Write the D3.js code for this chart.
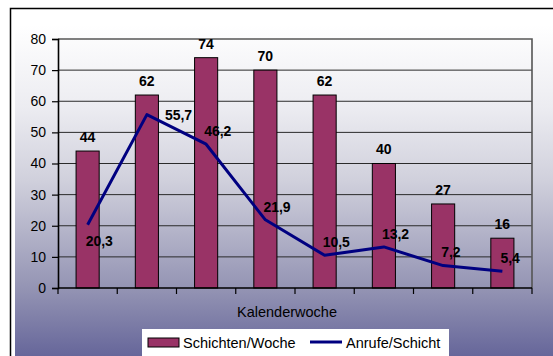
<!DOCTYPE html>
<html>
<head>
<meta charset="utf-8">
<script src="https://cdn.jsdelivr.net/npm/d3@7"></script>
<style>
  html, body { margin: 0; padding: 0; background: #fff; }
  svg { display: block; font-family: "Liberation Sans", Arial, sans-serif; }
</style>
</head>
<body>
<svg id="chart" width="553" height="356"></svg>
<script>
// Weekly shifts (bars) and calls per shift (line), per calendar week
const weeks = ["1", "2", "3", "4", "5", "6", "7", "8"];
const shiftsPerWeek = [44, 62, 74, 70, 62, 40, 27, 16];
const callsPerShift = [20.3, 55.7, 46.2, 21.9, 10.5, 13.2, 7.2, 5.4];
const yTicks = [0, 10, 20, 30, 40, 50, 60, 70, 80];
const seriesNames = ["Schichten/Woche", "Anrufe/Schicht"];
const axisTitle = "Kalenderwoche";

// where each line value label sits relative to its point
const lineLabelPlacement = ["below", "right", "above", "above", "above", "above", "above", "above"];

const svg = d3.select("#chart");
const W = 553, H = 356;
const plot = { left: 58, right: 532, top: 39, bottom: 288 };

const fmt = v => String(v).replace(".", ",");

// background gradient
const defs = svg.append("defs");
const grad = defs.append("linearGradient")
  .attr("id", "bg").attr("gradientUnits", "userSpaceOnUse")
  .attr("x1", 0).attr("y1", 25).attr("x2", 0).attr("y2", 356);
[[0, "#ffffff"], [0.25, "#ececf1"], [0.47, "#d0d0dc"], [0.8, "#9393b3"], [1, "#66669a"]]
  .forEach(([o, c]) => grad.append("stop").attr("offset", o).attr("stop-color", c));

svg.append("rect").attr("x", 0).attr("y", 0).attr("width", W).attr("height", H).attr("fill", "#fff");
svg.append("rect").attr("x", 15).attr("y", 25).attr("width", W).attr("height", H)
  .attr("fill", "url(#bg)");
// outer frame
svg.append("rect").attr("x", 10.5).attr("y", 8.5).attr("width", 600).attr("height", 400)
  .attr("fill", "none").attr("stroke", "#000").attr("stroke-width", 1.5);

const x = d3.scaleBand().domain(weeks)
  .range([plot.left, plot.right]).paddingInner(0.61).paddingOuter(0.305);
const y = d3.scaleLinear().domain([0, 80]).range([plot.bottom, plot.top]);

// gridlines
svg.append("g").selectAll("line").data(yTicks.filter(t => t > 0 && t < 80)).join("line")
  .attr("x1", plot.left).attr("x2", plot.right)
  .attr("y1", d => y(d)).attr("y2", d => y(d))
  .attr("stroke", "#2a2a2a").attr("stroke-width", 1);

// plot-area border (top and right)
svg.append("path")
  .attr("d", `M${plot.left},${plot.top}H${plot.right}V${plot.bottom}`)
  .attr("fill", "none").attr("stroke", "#555").attr("stroke-width", 1.6);

// bars
svg.append("g").selectAll("rect").data(shiftsPerWeek).join("rect")
  .attr("x", (d, i) => x(weeks[i]))
  .attr("y", d => y(d))
  .attr("width", x.bandwidth())
  .attr("height", d => y(0) - y(d))
  .attr("fill", "#993366").attr("stroke", "#000").attr("stroke-width", 1);

// y axis
const yAxis = svg.append("g").attr("transform", `translate(${plot.left},0)`)
  .call(d3.axisLeft(y).tickValues(yTicks).tickSize(6).tickPadding(6).tickFormat(d3.format("d")));
yAxis.select(".domain").attr("stroke", "#000").attr("stroke-width", 1.6);
yAxis.selectAll(".tick line").attr("stroke", "#000").attr("stroke-width", 1.2);
yAxis.selectAll(".tick text").attr("font-size", 14).attr("fill", "#000")
  .attr("font-family", "Liberation Sans, Arial, sans-serif");

// x axis: ticks on category boundaries
const bounds = d3.range(weeks.length + 1).map(i => plot.left + i * x.step());
svg.append("g").selectAll("line").data(bounds).join("line")
  .attr("x1", d => d).attr("x2", d => d)
  .attr("y1", plot.bottom).attr("y2", plot.bottom + 6)
  .attr("stroke", "#000").attr("stroke-width", 1.2);
svg.append("line")
  .attr("x1", plot.left).attr("x2", plot.right)
  .attr("y1", plot.bottom).attr("y2", plot.bottom)
  .attr("stroke", "#000").attr("stroke-width", 1.6);

svg.append("text").attr("x", (plot.left + plot.right) / 2 - 8).attr("y", 312)
  .attr("dy", "0.35em").attr("text-anchor", "middle")
  .attr("font-size", 14.5).text(axisTitle);

// line
const cx = i => x(weeks[i]) + x.bandwidth() / 2;
const line = d3.line().x((d, i) => cx(i)).y(d => y(d));
svg.append("path").datum(callsPerShift).attr("d", line)
  .attr("fill", "none").attr("stroke", "#000080").attr("stroke-width", 3)
  .attr("stroke-linejoin", "round");

// bar value labels
svg.append("g").selectAll("text").data(shiftsPerWeek).join("text")
  .attr("x", (d, i) => cx(i))
  .attr("y", d => y(d) - 14)
  .attr("dy", "0.35em").attr("text-anchor", "middle")
  .attr("font-size", 14).attr("font-weight", "bold").text(d => d);

// line value labels
const offsets = { below: [-2, 16], right: [18, 0], above: [-2, -13] };
svg.append("g").selectAll("text").data(callsPerShift).join("text")
  .attr("x", (d, i) => cx(i) + offsets[lineLabelPlacement[i]][0])
  .attr("y", (d, i) => y(d) + offsets[lineLabelPlacement[i]][1])
  .attr("dy", "0.35em").attr("text-anchor", "start")
  .attr("font-size", 14).attr("font-weight", "bold").text(d => fmt(d));

// legend
const lg = svg.append("g");
lg.append("rect").attr("x", 142).attr("y", 329).attr("width", 307).attr("height", 30).attr("fill", "#fff");
lg.append("rect").attr("x", 148).attr("y", 338).attr("width", 31).attr("height", 9)
  .attr("fill", "#993366").attr("stroke", "#000").attr("stroke-width", 1);
lg.append("text").attr("x", 183).attr("y", 342.5).attr("dy", "0.35em")
  .attr("font-size", 14.5).text(seriesNames[0]);
lg.append("line").attr("x1", 310).attr("x2", 342).attr("y1", 342).attr("y2", 342)
  .attr("stroke", "#000080").attr("stroke-width", 3);
lg.append("text").attr("x", 346).attr("y", 342.5).attr("dy", "0.35em")
  .attr("font-size", 14.5).text(seriesNames[1]);
</script>
</body>
</html>
